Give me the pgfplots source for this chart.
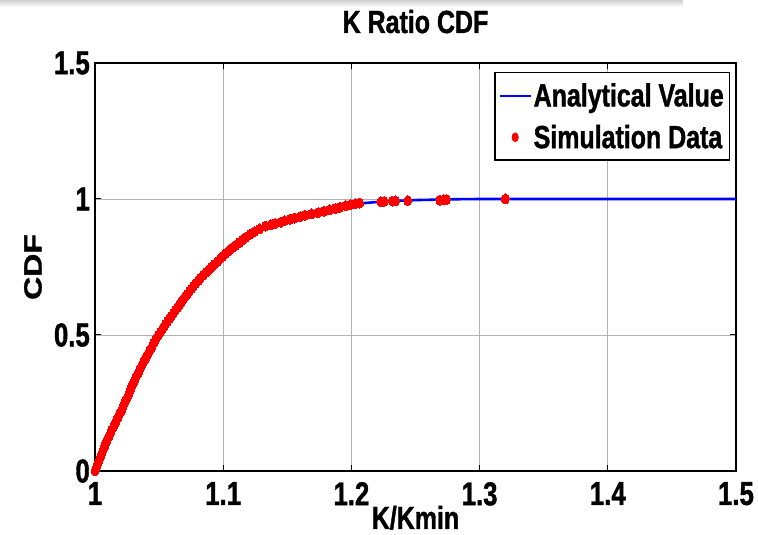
\documentclass[border=0pt]{standalone}
\usepackage{fontspec}
\setmainfont{Liberation Sans}[FakeStretch=0.78, FakeBold=1.2]
\newfontfamily\uprightsans{Liberation Sans}[FakeBold=1.2]
\usepackage{pgfplots}
\pgfplotsset{compat=1.18}

\newcommand\chartfont{\fontsize{32}{38}\selectfont\bfseries}
\newcommand\tickfont{\fontsize{33}{38}\selectfont\bfseries}

% analytical CDF of K/Kmin
\pgfplotstableread{
x y
1.000 0.000
1.005 0.058
1.010 0.116
1.015 0.168
1.020 0.215
1.030 0.310
1.040 0.400
1.050 0.485
1.060 0.560
1.070 0.625
1.080 0.685
1.090 0.735
1.100 0.776
1.110 0.820
1.120 0.858
1.130 0.887
1.140 0.908
1.150 0.927
1.160 0.943
1.170 0.955
1.180 0.965
1.190 0.973
1.200 0.980
1.210 0.985
1.220 0.989
1.230 0.992
1.240 0.994
1.250 0.996
1.260 0.997
1.270 0.998
1.280 0.999
1.300 1.000
1.500 1.000
}\analytic

% empirical CDF from the simulation runs
\pgfplotstableread{
x y
1.0000 0.00
1.0008 0.01
1.0016 0.02
1.0024 0.03
1.0033 0.04
1.0041 0.05
1.0050 0.06
1.0058 0.07
1.0066 0.08
1.0075 0.09
1.0083 0.10
1.0092 0.11
1.0101 0.12
1.0111 0.13
1.0121 0.14
1.0130 0.15
1.0142 0.16
1.0153 0.17
1.0162 0.18
1.0170 0.19
1.0181 0.20
1.0192 0.21
1.0203 0.22
1.0213 0.23
1.0222 0.24
1.0230 0.25
1.0240 0.26
1.0251 0.27
1.0262 0.28
1.0270 0.29
1.0278 0.30
1.0287 0.31
1.0295 0.32
1.0305 0.33
1.0316 0.34
1.0326 0.35
1.0337 0.36
1.0347 0.37
1.0357 0.38
1.0367 0.39
1.0378 0.40
1.0390 0.41
1.0402 0.42
1.0413 0.43
1.0424 0.44
1.0437 0.45
1.0448 0.46
1.0458 0.47
1.0469 0.48
1.0482 0.49
1.0496 0.50
1.0510 0.51
1.0524 0.52
1.0538 0.53
1.0551 0.54
1.0566 0.55
1.0581 0.56
1.0598 0.57
1.0612 0.58
1.0625 0.59
1.0641 0.60
1.0657 0.61
1.0671 0.62
1.0686 0.63
1.0702 0.64
1.0718 0.65
1.0735 0.66
1.0752 0.67
1.0768 0.68
1.0786 0.69
1.0805 0.70
1.0823 0.71
1.0844 0.72
1.0866 0.73
1.0888 0.74
1.0910 0.75
1.0932 0.76
1.0954 0.77
1.0975 0.78
1.0998 0.79
1.1020 0.80
1.1045 0.81
1.1070 0.82
1.1098 0.83
1.1126 0.84
1.1152 0.85
1.1178 0.86
1.1210 0.87
1.1245 0.88
1.1282 0.89
1.1330 0.90
1.1372 0.905
1.1405 0.91
1.1450 0.915
1.1478 0.92
1.1520 0.925
1.1556 0.93
1.1600 0.935
1.1640 0.94
1.1690 0.945
1.1740 0.95
1.1785 0.955
1.1830 0.96
1.1875 0.965
1.1910 0.97
1.1955 0.975
1.1990 0.978
1.2030 0.982
1.2065 0.985
1.2230 0.990
1.2255 0.991
1.2320 0.992
1.2345 0.993
1.2440 0.994
1.2690 0.996
1.2720 0.997
1.2740 0.998
1.3200 1.000
}\simdata

\begin{document}
\begin{tikzpicture}[x=1pt,y=1pt]
\path[use as bounding box] (0,0) rectangle (758,535);
% soft window shadow along the top edge
\shade[top color=black!18, bottom color=white] (0,528) rectangle (683,535);
\begin{axis}[
  at={(95pt,64pt)}, anchor=south west,
  scale only axis, width=641pt, height=408pt,
  xmin=1, xmax=1.5, ymin=0, ymax=1.5,
  xtick={1,1.1,1.2,1.3,1.4,1.5},
  xticklabels={1,1.1,1.2,1.3,1.4,1.5},
  ytick={0,0.5,1,1.5},
  yticklabels={0,0.5,1,1.5},
  grid=major,
  major grid style={gray!60, line width=0.7pt},
  axis line style={black, line width=1.6pt},
  tick align=inside, major tick length=6pt,
  tick style={black, line width=1pt},
  ticklabel style={font=\tickfont},
  xticklabel style={anchor=north, inner sep=0pt, yshift=-11pt},
  yticklabel style={anchor=east, inner sep=0pt, xshift=-5pt},
  xlabel={K/Kmin},
  xlabel style={font=\chartfont, at={(axis description cs:0.5,0)}, anchor=base, yshift=-58pt},
  ylabel={\uprightsans\bfseries\fontsize{32}{36}\selectfont\scalebox{1}[0.78]{CDF}},
  ylabel style={at={([xshift=-53pt]axis description cs:0,0.5)}, anchor=south, inner sep=0pt},
  legend style={at={(axis description cs:1,1)}, anchor=north east,
    xshift=-6pt, yshift=-9pt, draw=black, line width=1.5pt, fill=white,
    font=\chartfont, inner xsep=4pt, inner ysep=9pt, row sep=14pt,
    nodes={inner sep=1.5pt}},
  legend cell align=left,
]
\addplot[blue, line width=2.6pt,
  legend image code/.code={\draw[blue, line width=2pt] (0pt,0pt) -- (31pt,0pt);}]
  table[x=x, y=y] {\analytic};
\addlegendentry{Analytical Value}
\addplot[red, only marks, mark=*, mark size=5pt,
  mark options={draw=red, fill=red, line width=0pt, xscale=0.78},
  legend image code/.code={\fill[red] (15pt,0pt) ellipse (2.8pt and 4pt);}]
  table[x=x, y=y] {\simdata};
\addlegendentry{Simulation Data}
\end{axis}
% chart title
\node[font=\chartfont, anchor=base, inner sep=0pt] at (415.5,502) {K Ratio CDF};
\end{tikzpicture}
\end{document}
